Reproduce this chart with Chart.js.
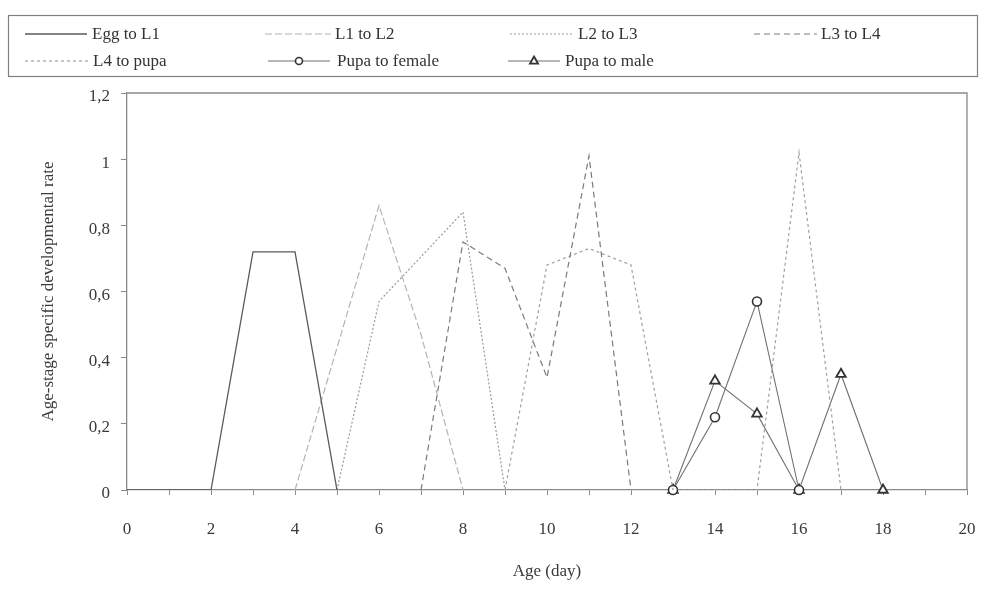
<!DOCTYPE html>
<html lang="en">
<head>
  <meta charset="UTF-8" />
  <title>Age-stage specific developmental rate</title>
  <script src="https://cdn.jsdelivr.net/npm/chart.js"></script>
  <style>
    body {
      margin: 0;
      background: #fff;
    }
  </style>
</head>
<body>
  <canvas id="rateChart" width="990" height="595"></canvas>

  <script>
    // values, one pair of arrays per stage
    const eggL1Days = [0, 1, 2, 3, 4, 5];
    const eggL1Rate = [0, 0, 0, 0.72, 0.72, 0];

    const l1L2Days = [4, 6, 7, 8];
    const l1L2Rate = [0, 0.86, 0.47, 0];

    const l2L3Days = [5, 6, 8, 9];
    const l2L3Rate = [0, 0.57, 0.84, 0];

    const l3L4Days = [7, 8, 9, 10, 11, 12];
    const l3L4Rate = [0, 0.75, 0.67, 0.34, 1.01, 0];

    const l4PupaDays = [9, 10, 11, 12, 13, 14, 15, 16, 17];
    const l4PupaRate = [0, 0.68, 0.73, 0.68, 0, 0, 0, 1.02, 0];

    const femaleDays = [13, 14, 15, 16];
    const femaleRate = [0, 0.22, 0.57, 0];

    const maleDays = [13, 14, 15, 16, 17, 18];
    const maleRate = [0, 0.33, 0.23, 0, 0.35, 0];

    const xTicksEvery = 2;
    const serif = '"Liberation Serif", "DejaVu Serif", serif';

    function pairs(xs, ys) {
      return xs.map((x, i) => ({ x: x, y: ys[i] }));
    }

    // where each legend entry sits inside the box: [sample start, sample end, text x, row y]
    const legendSlots = [
      [25, 87, 92, 34],
      [265, 331, 335, 34],
      [510, 573, 578, 34],
      [754, 817, 821, 34],
      [25, 88, 93, 61],
      [268, 330, 337, 61],
      [508, 560, 565, 61]
    ];

    const boxLegend = {
      id: 'boxLegend',
      afterDraw(chart) {
        const ctx = chart.ctx;
        ctx.save();
        ctx.strokeStyle = '#808080';
        ctx.lineWidth = 1.2;
        ctx.setLineDash([]);
        ctx.strokeRect(8.5, 15.5, 969, 61);

        chart.data.datasets.forEach((ds, i) => {
          const [x1, x2, tx, y] = legendSlots[i];
          ctx.strokeStyle = ds.borderColor;
          ctx.lineWidth = ds.borderWidth;
          ctx.setLineDash(ds.borderDash || []);
          ctx.beginPath();
          ctx.moveTo(x1, y);
          ctx.lineTo(x2, y);
          ctx.stroke();
          ctx.setLineDash([]);

          if (ds.pointRadius > 0) {
            const mx = (x1 + x2) / 2;
            ctx.fillStyle = '#fff';
            ctx.strokeStyle = ds.pointBorderColor;
            ctx.lineWidth = ds.pointBorderWidth;
            ctx.beginPath();
            if (ds.pointStyle === 'triangle') {
              const r = ds.pointRadius - 1;
              ctx.moveTo(mx, y - r);
              ctx.lineTo(mx + r * 0.9, y + r * 0.6);
              ctx.lineTo(mx - r * 0.9, y + r * 0.6);
              ctx.closePath();
            } else {
              ctx.arc(mx, y, ds.pointRadius - 1, 0, Math.PI * 2);
            }
            ctx.fill();
            ctx.stroke();
          }

          ctx.fillStyle = '#333';
          ctx.font = '17px ' + serif;
          ctx.textBaseline = 'middle';
          ctx.textAlign = 'left';
          ctx.fillText(ds.label, tx, y + 1);
        });
        ctx.restore();
      }
    };

    // top and right edges of the plot frame
    const plotFrame = {
      id: 'plotFrame',
      beforeDatasetsDraw(chart) {
        const { ctx, chartArea } = chart;
        ctx.save();
        ctx.strokeStyle = '#8a8a8a';
        ctx.lineWidth = 1.3;
        ctx.beginPath();
        ctx.moveTo(chartArea.left, chartArea.top);
        ctx.lineTo(chartArea.right, chartArea.top);
        ctx.lineTo(chartArea.right, chartArea.bottom);
        ctx.stroke();
        ctx.restore();
      }
    };

    new Chart(document.getElementById('rateChart').getContext('2d'), {
      type: 'line',
      data: {
        datasets: [
          {
            label: 'Egg to L1',
            data: pairs(eggL1Days, eggL1Rate),
            borderColor: '#5a5a5a',
            borderWidth: 1.3,
            pointRadius: 0
          },
          {
            label: 'L1 to L2',
            data: pairs(l1L2Days, l1L2Rate),
            borderColor: '#b4b4b4',
            borderWidth: 1.2,
            borderDash: [7, 3],
            pointRadius: 0
          },
          {
            label: 'L2 to L3',
            data: pairs(l2L3Days, l2L3Rate),
            borderColor: '#9a9a9a',
            borderWidth: 1.2,
            borderDash: [2, 2],
            pointRadius: 0
          },
          {
            label: 'L3 to L4',
            data: pairs(l3L4Days, l3L4Rate),
            borderColor: '#7a7a7a',
            borderWidth: 1.2,
            borderDash: [6, 4],
            pointRadius: 0
          },
          {
            label: 'L4 to pupa',
            data: pairs(l4PupaDays, l4PupaRate),
            borderColor: '#a0a0a0',
            borderWidth: 1.2,
            borderDash: [3, 3],
            pointRadius: 0
          },
          {
            label: 'Pupa to female',
            data: pairs(femaleDays, femaleRate),
            borderColor: '#707070',
            borderWidth: 1.1,
            pointStyle: 'circle',
            pointRadius: 4.5,
            pointBorderWidth: 1.6,
            pointBorderColor: '#333',
            pointBackgroundColor: '#fff',
            clip: false
          },
          {
            label: 'Pupa to male',
            data: pairs(maleDays, maleRate),
            borderColor: '#707070',
            borderWidth: 1.1,
            pointStyle: 'triangle',
            pointRadius: 5.5,
            pointBorderWidth: 1.8,
            pointBorderColor: '#333',
            pointBackgroundColor: '#fff',
            clip: false
          }
        ]
      },
      options: {
        responsive: false,
        animation: false,
        devicePixelRatio: 1,
        elements: { line: { tension: 0 } },
        layout: { padding: { top: 93, right: 23, left: 0, bottom: 0 } },
        plugins: {
          legend: { display: false },
          tooltip: { enabled: false }
        },
        scales: {
          x: {
            type: 'linear',
            min: 0,
            max: 20,
            afterFit(scale) {
              scale.height = 105;
              scale.paddingLeft = 0;
              scale.paddingRight = 0;
            },
            border: { display: true, color: '#8a8a8a', width: 1.3 },
            grid: { drawOnChartArea: false, drawTicks: true, tickLength: 5, color: '#8a8a8a' },
            ticks: {
              stepSize: 1,
              autoSkip: false,
              maxRotation: 0,
              padding: 24,
              color: '#3a3a3a',
              font: { family: serif, size: 17 },
              callback: v => (v % xTicksEvery === 0 ? String(v) : '')
            },
            title: {
              display: true,
              text: 'Age (day)',
              color: '#3a3a3a',
              font: { family: serif, size: 17 },
              padding: { top: 0, bottom: 13 }
            }
          },
          y: {
            min: 0,
            max: 1.2,
            afterFit(scale) {
              scale.width = 127;
              scale.paddingTop = 0;
              scale.paddingBottom = 0;
            },
            border: { display: true, color: '#8a8a8a', width: 1.3 },
            grid: { drawOnChartArea: false, drawTicks: true, tickLength: 6, color: '#8a8a8a' },
            ticks: {
              stepSize: 0.2,
              padding: 11,
              labelOffset: 4,
              color: '#3a3a3a',
              font: { family: serif, size: 17 },
              callback: v => String(Math.round(v * 10) / 10).replace('.', ',')
            },
            title: {
              display: true,
              text: 'Age-stage specific developmental rate',
              color: '#3a3a3a',
              font: { family: serif, size: 17 },
              padding: { top: 38, bottom: 0 }
            }
          }
        }
      },
      plugins: [plotFrame, boxLegend]
    });
  </script>
</body>
</html>
